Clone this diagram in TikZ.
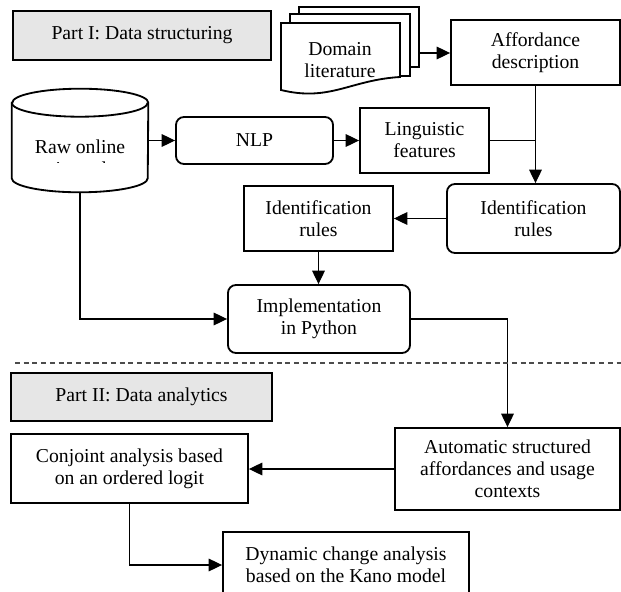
\documentclass[tikz,border=0pt]{standalone}
\usepackage{fontspec}
\setmainfont{Liberation Serif}
\usetikzlibrary{arrows.meta,positioning,shapes.geometric}
\definecolor{partgray}{HTML}{E6E6E6}

\begin{document}
\begin{tikzpicture}[
    x=0.025cm, y=-0.025cm,
    font=\fontsize{14}{15.6}\selectfont,
    every node/.style={align=center, inner sep=0},
    box/.style={draw, line width=1.3pt, rectangle},
    rbox/.style={box, rounded corners=0.2cm},
    partbox/.style={box, fill=partgray},
    docpage/.style={draw, line width=1.3pt, fill=white},
    flow/.style={line width=0.75pt},
    arr/.style={flow, -{Triangle[length=9.5pt, width=9pt]}},
    partline/.style={line width=0.75pt, black!70, dash pattern=on 3.6pt off 2.6pt},
    cylend/.style={x radius=1.7cm, y radius=0.35cm}
  ]
\useasboundingbox (0,0) rectangle (621,592);

\node[partbox, minimum width=6.45cm, minimum height=1.225cm] (part1) at (142,35.5) {Part I: Data structuring};

\draw[docpage] (299,7) rectangle (419,67);
\draw[docpage] (290,14) rectangle (410,76);
\draw[docpage] (281,23) -- (400,23) -- (400,77) .. controls (350,80) and (330,102) .. (281,90) -- cycle;
\node (lit) at (340,60) {Domain\\literature};
\coordinate (litout) at (419,53);

\node[box, minimum width=4.225cm, minimum height=1.625cm] (afford) at (535.5,52.5) {Affordance\\description};

\node[minimum width=3.4cm, minimum height=2.575cm] (raw) at (80,140.5) {};
\draw[docpage] ([yshift=-0.35cm]raw.north west) -- ([yshift=0.35cm]raw.south west)
  arc[start angle=180, end angle=360, cylend] -- ([yshift=-0.35cm]raw.north east)
  arc[start angle=0, end angle=180, cylend] -- cycle;
\draw[line width=1.3pt] ([yshift=-0.35cm]raw.north west) arc[start angle=180, end angle=360, cylend];
\begin{scope}
  \clip (12,118) rectangle (148,162);
  \node (rawtxt) at (80,158) {Raw online\\reviews data};
\end{scope}

\node[rbox, minimum width=3.925cm, minimum height=1.175cm] (nlp) at (254.5,140.5) {NLP};
\node[box, minimum width=3.225cm, minimum height=1.625cm] (ling) at (424.5,140.5) {Linguistic\\features};
\node[rbox, minimum width=4.325cm, minimum height=1.725cm] (idr) at (533.5,218.5) {Identification\\rules};
\node[box, minimum width=3.725cm, minimum height=1.625cm] (idl) at (318.5,218.5) {Identification\\rules};
\node[rbox, minimum width=4.55cm, minimum height=1.7cm] (impl) at (319,319) {Implementation\\in Python};

\node[partbox, minimum width=6.525cm, minimum height=1.2cm] (part2) at (141.5,397) {Part II: Data analytics};
\node[box, minimum width=5.625cm, minimum height=2.05cm] (autostruct) at (507.5,469) {Automatic structured\\affordances and usage\\contexts};
\node[box, minimum width=5.925cm, minimum height=1.725cm] (conj) at (129.5,468.5) {Conjoint analysis based\\on an ordered logit};
\node[box, minimum width=6.15cm, minimum height=1.65cm] (dyn) at (346,565) {Dynamic change analysis\\based on the Kano model};

\draw[arr] (raw.east) -- (nlp.west);
\draw[arr] (nlp) -- (ling);
\draw[arr] (litout) -- (litout -| afford.west);
\draw[flow] (ling.east) -- (ling.east -| afford.south);
\draw[arr] (afford.south) -- (afford.south |- idr.north);
\draw[arr] (idr) -- (idl);
\draw[arr] (idl.south) -- (idl.south |- impl.north);
\draw[arr] (raw.south) |- (impl.west);
\draw[arr] (impl.east) -| (autostruct.north);
\draw[partline] (15,363) -- (621,363);
\draw[arr] (autostruct.west) -- (autostruct.west -| conj.east);
\draw[arr] (conj.south) |- (dyn.west);

\end{tikzpicture}
\end{document}
